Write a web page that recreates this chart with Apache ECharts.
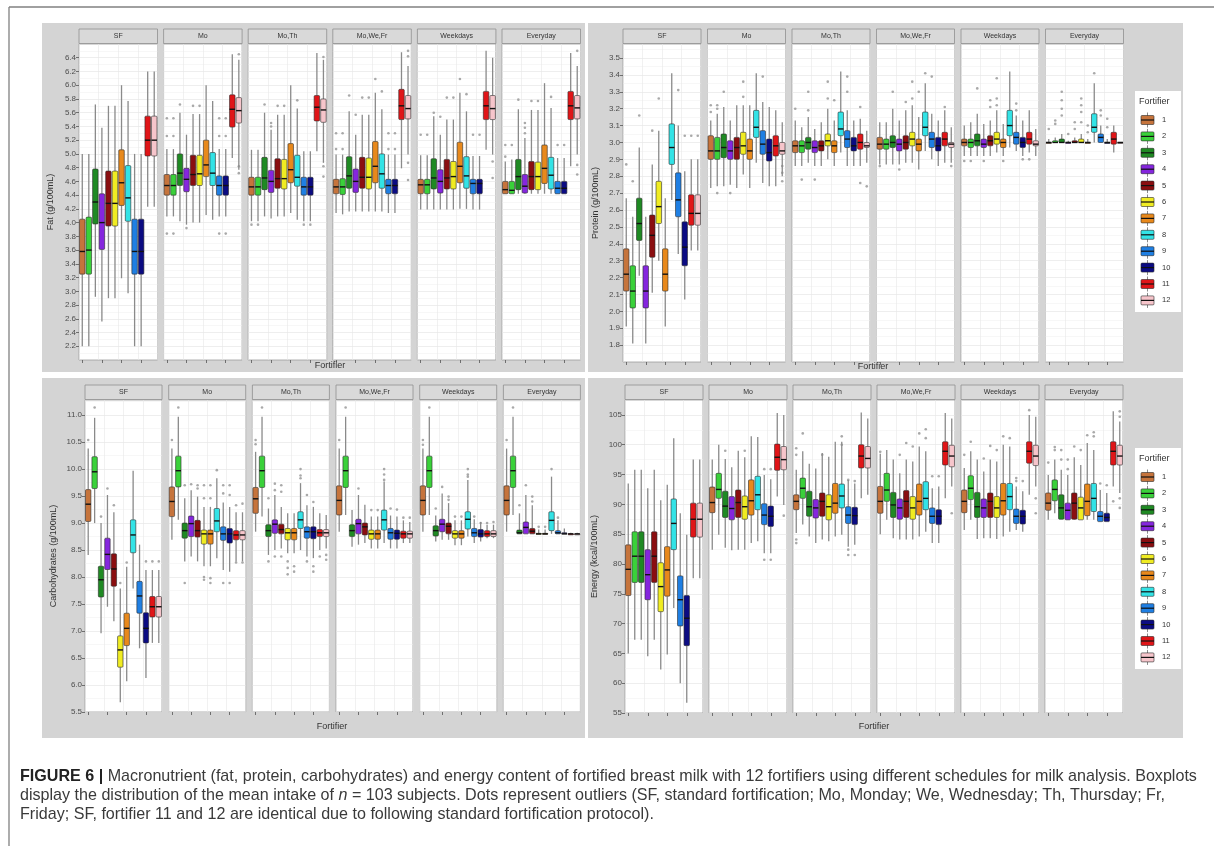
<!DOCTYPE html>
<html><head><meta charset="utf-8">
<script src="https://cdn.jsdelivr.net/npm/echarts@6/dist/echarts.min.js"></script>
<style>html,body{margin:0;padding:0;background:#fff}#c{width:1214px;height:846px}</style>
</head><body><div id="c"></div>
<script>
// ---------- categories ----------
const fortifiers = ['1','2','3','4','5','6','7','8','9','10','11','12'];
const facets = ['SF','Mo','Mo,Th','Mo,We,Fr','Weekdays','Everyday'];
// ---------- tick label ranges [first, last, step] ----------
const fatTicks = [2.2, 6.4, 0.2];
const proteinTicks = [1.8, 3.5, 0.1];
const carbsTicks = [5.5, 11.0, 0.5];
const energyTicks = [55, 105, 5];

// ---------- box stats per fortifier: [lower whisker, Q1, median, Q3, upper whisker] ----------
const fat_SF = [[2.2,3.25,3.58,4.05,5.0],[2.2,3.25,3.6,4.08,5.0],[2.92,3.98,4.3,4.78,5.72],[2.56,3.61,4.0,4.42,5.38],[2.9,3.95,4.28,4.75,5.7],[2.9,3.95,4.28,4.75,5.7],[3.19,4.25,4.58,5.06,6.0],[2.97,4.02,4.36,4.83,5.77],[2.2,3.25,3.58,4.05,5.0],[2.2,3.25,3.58,4.05,5.0],[4.23,4.97,5.2,5.55,6.2],[4.23,4.97,5.2,5.55,6.2]];
const fat_Mo = [[4.09,4.4,4.54,4.7,5.07],[4.09,4.4,4.54,4.7,5.07],[4.02,4.54,4.72,5.0,5.6],[3.97,4.45,4.63,4.79,5.28],[4.0,4.54,4.7,4.98,5.58],[4.0,4.54,4.71,4.98,5.58],[4.11,4.67,4.84,5.2,6.0],[4.04,4.54,4.72,5.02,5.77],[4.09,4.4,4.54,4.68,5.07],[4.09,4.4,4.54,4.68,5.07],[4.94,5.39,5.65,5.86,6.45],[4.77,5.45,5.63,5.82,6.37]];
const fat_MoTh = [[4.02,4.4,4.52,4.66,5.06],[4.02,4.4,4.52,4.66,5.06],[4.09,4.48,4.65,4.95,5.6],[4.06,4.44,4.6,4.76,5.35],[4.09,4.5,4.64,4.93,5.57],[4.09,4.49,4.64,4.92,5.57],[4.14,4.58,4.77,5.15,6.0],[4.04,4.53,4.66,4.98,5.66],[4.02,4.4,4.52,4.66,5.04],[4.02,4.4,4.52,4.66,5.04],[5.04,5.48,5.68,5.85,6.47],[4.87,5.46,5.64,5.8,6.37]];
const fat_MoWeFr = [[4.14,4.42,4.52,4.63,4.99],[4.12,4.41,4.52,4.64,4.99],[4.16,4.5,4.68,4.96,5.62],[4.16,4.44,4.6,4.78,5.28],[4.16,4.5,4.66,4.95,5.57],[4.16,4.49,4.66,4.94,5.57],[4.16,4.58,4.82,5.18,5.89],[4.16,4.5,4.71,5.0,5.65],[4.14,4.42,4.54,4.63,4.99],[4.14,4.42,4.54,4.63,4.99],[4.79,5.5,5.7,5.94,6.48],[4.99,5.51,5.66,5.85,6.28]];
const fat_Weekdays = [[4.19,4.42,4.55,4.63,4.98],[4.19,4.42,4.55,4.63,4.98],[4.19,4.49,4.65,4.93,5.55],[4.19,4.43,4.6,4.77,5.28],[4.19,4.49,4.65,4.92,5.5],[4.19,4.49,4.67,4.89,5.5],[4.2,4.58,4.82,5.17,5.89],[4.2,4.5,4.68,4.96,5.62],[4.19,4.42,4.57,4.63,4.97],[4.19,4.42,4.57,4.63,4.97],[5.06,5.5,5.7,5.91,6.5],[4.99,5.5,5.66,5.85,6.4]];
const fat_Everyday = [[4.42,4.42,4.48,4.6,4.89],[4.42,4.42,4.47,4.6,4.92],[4.42,4.48,4.67,4.92,5.65],[4.42,4.43,4.53,4.7,5.23],[4.42,4.48,4.67,4.89,5.64],[4.42,4.48,4.67,4.88,5.64],[4.42,4.57,4.79,5.13,6.03],[4.42,4.49,4.69,4.95,5.67],[4.42,4.42,4.5,4.6,4.94],[4.42,4.42,4.5,4.6,4.94],[4.82,5.5,5.7,5.91,6.47],[4.99,5.51,5.67,5.85,6.28]];

const protein_SF = [[1.91,2.12,2.22,2.37,2.67],[1.81,2.02,2.12,2.27,2.56],[2.21,2.42,2.52,2.67,2.97],[1.81,2.02,2.12,2.27,2.56],[2.11,2.32,2.45,2.57,2.87],[2.3,2.52,2.62,2.77,3.07],[1.91,2.12,2.22,2.37,2.67],[2.66,2.87,2.97,3.11,3.41],[2.34,2.56,2.66,2.82,3.1],[2.07,2.27,2.38,2.53,2.83],[2.36,2.51,2.58,2.69,2.9],[2.36,2.51,2.58,2.69,2.9]];
const protein_Mo = [[2.73,2.9,2.95,3.04,3.13],[2.74,2.9,2.95,3.03,3.17],[2.74,2.91,2.97,3.05,3.21],[2.75,2.9,2.95,3.01,3.13],[2.73,2.9,2.97,3.03,3.22],[2.81,2.93,2.98,3.06,3.22],[2.73,2.9,2.95,3.02,3.22],[2.88,3.03,3.09,3.19,3.41],[2.76,2.93,2.99,3.07,3.24],[2.74,2.89,2.94,3.02,3.21],[2.74,2.92,2.98,3.04,3.19],[2.8,2.93,2.95,3.0,3.12]];
const protein_MoTh = [[2.86,2.94,2.98,3.01,3.13],[2.86,2.94,2.98,3.01,3.09],[2.88,2.96,3.0,3.03,3.15],[2.86,2.94,2.97,3.01,3.08],[2.86,2.95,2.98,3.01,3.12],[2.9,2.98,3.01,3.05,3.2],[2.86,2.94,2.98,3.01,3.13],[2.94,3.04,3.08,3.18,3.42],[2.86,2.97,3.02,3.07,3.19],[2.86,2.95,2.98,3.03,3.13],[2.86,2.96,3.0,3.05,3.14],[2.88,2.97,2.98,3.0,3.07]];
const protein_MoWeFr = [[2.87,2.96,2.99,3.03,3.12],[2.87,2.96,2.99,3.02,3.12],[2.87,2.97,3.0,3.04,3.2],[2.87,2.95,2.99,3.02,3.13],[2.88,2.96,3.0,3.04,3.19],[2.88,2.98,3.02,3.06,3.22],[2.84,2.95,2.99,3.02,3.15],[2.95,3.04,3.09,3.18,3.35],[2.9,2.97,3.02,3.06,3.17],[2.86,2.95,2.98,3.03,3.13],[2.88,2.98,3.02,3.06,3.19],[2.88,2.97,2.99,3.0,3.09]];
const protein_Weekdays = [[2.92,2.98,3.0,3.02,3.1],[2.92,2.97,3.0,3.02,3.12],[2.92,2.98,3.01,3.05,3.17],[2.92,2.97,2.99,3.02,3.11],[2.92,2.98,3.01,3.04,3.13],[2.94,2.99,3.02,3.06,3.19],[2.92,2.97,3.0,3.02,3.11],[2.97,3.04,3.1,3.19,3.42],[2.95,2.99,3.03,3.06,3.16],[2.92,2.97,3.0,3.03,3.13],[2.94,2.99,3.02,3.06,3.19],[2.92,2.98,2.99,3.01,3.08]];
const protein_Everyday = [[3.0,3.0,3.0,3.0,3.02],[3.0,3.0,3.0,3.01,3.03],[3.0,3.0,3.0,3.02,3.05],[3.0,3.0,3.0,3.0,3.01],[3.0,3.0,3.0,3.01,3.03],[3.0,3.0,3.0,3.02,3.05],[3.0,3.0,3.0,3.0,3.02],[3.0,3.06,3.09,3.17,3.35],[3.0,3.0,3.03,3.05,3.1],[3.0,3.0,3.0,3.0,3.02],[2.94,2.99,3.02,3.06,3.1],[3.0,3.0,3.0,3.0,3.0]];

const carbs_SF = [[8.41,9.03,9.35,9.62,10.38],[9.0,9.64,9.95,10.23,10.95],[6.96,7.63,7.95,8.2,9.0],[7.45,8.14,8.42,8.72,9.52],[7.18,7.83,8.15,8.43,9.2],[5.68,6.33,6.65,6.91,7.79],[6.07,6.73,7.05,7.33,8.19],[7.79,8.45,8.78,9.06,9.97],[6.68,7.33,7.65,7.92,8.6],[6.13,6.78,7.05,7.34,8.13],[6.78,7.26,7.45,7.64,8.13],[6.78,7.26,7.45,7.64,8.13]];
const carbs_Mo = [[8.69,9.12,9.4,9.67,10.38],[9.06,9.67,9.97,10.24,10.97],[8.29,8.72,8.86,9.0,9.46],[8.38,8.75,8.99,9.13,9.61],[8.29,8.74,8.86,9.05,9.49],[8.2,8.61,8.8,8.87,9.3],[8.2,8.61,8.8,8.87,9.3],[8.35,8.84,9.04,9.27,9.83],[8.13,8.68,8.8,8.93,9.38],[8.1,8.63,8.8,8.9,9.3],[8.29,8.69,8.78,8.86,9.2],[8.29,8.69,8.78,8.86,9.2]];
const carbs_MoTh = [[8.84,9.18,9.45,9.66,10.32],[9.12,9.66,9.97,10.24,10.97],[8.41,8.75,8.86,8.97,9.27],[8.5,8.81,8.98,9.06,9.52],[8.53,8.8,8.88,8.98,9.3],[8.44,8.69,8.82,8.9,9.18],[8.44,8.69,8.82,8.9,9.18],[8.5,8.9,9.06,9.21,9.74],[8.38,8.72,8.84,8.93,9.33],[8.35,8.71,8.84,8.93,9.3],[8.5,8.75,8.82,8.88,9.18],[8.53,8.75,8.82,8.88,9.15]];
const carbs_MoWeFr = [[8.84,9.15,9.42,9.69,10.38],[9.15,9.66,9.97,10.24,10.97],[8.56,8.75,8.86,8.97,9.24],[8.6,8.8,8.99,9.07,9.52],[8.63,8.78,8.93,9.0,9.34],[8.53,8.7,8.8,8.87,9.12],[8.53,8.7,8.8,8.87,9.12],[8.63,8.87,9.06,9.24,9.77],[8.53,8.7,8.82,8.9,9.14],[8.53,8.7,8.81,8.87,9.12],[8.63,8.72,8.8,8.85,9.05],[8.63,8.72,8.8,8.85,9.02]];
const carbs_Weekdays = [[8.84,9.15,9.42,9.69,10.38],[9.15,9.66,9.97,10.24,10.97],[8.66,8.76,8.86,8.95,9.14],[8.69,8.84,8.98,9.07,9.55],[8.69,8.8,8.94,9.0,9.37],[8.59,8.72,8.8,8.86,9.05],[8.59,8.72,8.8,8.86,9.05],[8.75,8.89,9.07,9.21,9.8],[8.63,8.75,8.82,8.9,9.07],[8.66,8.74,8.8,8.88,9.02],[8.72,8.75,8.8,8.86,8.97],[8.72,8.75,8.8,8.86,8.97]];
const carbs_Everyday = [[8.84,9.15,9.42,9.69,10.38],[9.15,9.66,9.97,10.24,10.97],[8.8,8.8,8.82,8.87,9.18],[8.8,8.8,8.92,9.02,9.52],[8.8,8.8,8.85,8.9,9.33],[8.8,8.8,8.8,8.81,8.88],[8.8,8.8,8.8,8.81,8.88],[8.8,8.86,9.05,9.21,9.86],[8.8,8.8,8.82,8.86,9.05],[8.8,8.8,8.8,8.82,8.9],[8.8,8.8,8.8,8.8,8.82],[8.8,8.8,8.8,8.8,8.82]];

const energy_SF = [[65.0,74.7,79.1,83.2,93.5],[67.3,76.9,81.3,85.4,95.8],[67.3,76.9,81.3,85.4,95.8],[64.5,74.0,78.2,82.4,92.7],[67.3,76.9,81.3,85.4,95.8],[62.3,72.0,76.2,80.2,90.7],[64.8,74.6,79.0,82.9,93.3],[72.6,82.4,86.8,90.9,101.1],[60.0,69.6,74.0,78.0,88.5],[56.7,66.3,70.9,74.7,84.9],[77.6,84.5,87.5,90.2,97.5],[77.6,84.5,87.5,90.2,97.5]];
const energy_Mo = [[82.4,88.6,90.3,92.9,97.5],[84.9,91.0,92.5,95.2,100.0],[82.7,87.8,89.7,92.2,97.6],[82.3,87.4,89.3,91.3,96.2],[82.4,87.8,90.3,92.4,99.0],[82.4,87.5,89.6,91.4,97.9],[83.5,88.2,90.6,94.1,101.4],[83.8,89.1,91.6,94.7,101.3],[81.8,86.6,88.2,90.1,94.9],[81.8,86.3,88.0,89.7,94.2],[91.3,95.7,97.9,100.1,105.3],[89.9,95.8,97.5,99.7,105.0]];
const energy_MoTh = [[85.2,89.1,90.5,91.6,95.8],[86.6,91.0,92.7,94.4,98.9],[84.6,88.0,89.6,92.2,96.8],[83.5,87.7,89.4,90.8,96.0],[84.1,88.0,90.5,91.9,98.6],[83.8,87.4,89.6,91.6,98.0],[84.6,88.5,90.2,93.5,100.5],[84.9,89.4,91.4,93.4,100.5],[82.9,86.8,88.2,89.6,94.1],[83.2,86.6,88.1,89.5,93.5],[91.0,96.1,98.1,100.0,105.4],[91.6,96.1,97.7,99.7,104.4]];
const energy_MoWeFr = [[85.0,88.5,90.5,93.0,98.5],[87.4,90.5,92.4,95.2,99.1],[84.3,87.8,89.9,92.0,97.5],[84.1,87.5,89.4,90.9,95.2],[84.1,87.8,90.5,92.3,97.5],[84.1,87.5,89.4,91.3,97.2],[84.6,88.2,90.5,93.4,99.7],[85.4,89.1,91.0,93.8,98.9],[83.5,86.8,88.0,89.4,92.7],[83.5,86.6,88.0,89.1,93.0],[91.0,96.6,98.9,100.5,105.3],[93.0,96.3,98.1,99.9,104.4]];
const energy_Weekdays = [[85.7,88.6,90.5,92.4,96.1],[87.4,90.8,92.7,94.8,98.9],[84.2,87.8,89.6,92.0,97.5],[84.3,87.8,89.4,90.9,95.5],[84.3,87.8,90.5,91.9,97.5],[84.2,87.8,89.4,91.3,97.2],[84.6,88.2,90.6,93.5,100.0],[85.4,89.1,91.3,93.5,99.7],[85.7,86.8,88.0,89.2,93.0],[85.4,86.7,88.0,89.0,92.2],[91.6,96.9,98.9,100.5,105.0],[93.0,96.5,98.1,99.9,104.7]];
const energy_Everyday = [[87.4,89.0,90.2,91.9,94.9],[88.5,90.6,92.5,94.1,97.5],[87.5,87.5,89.4,91.6,95.8],[87.4,87.4,89.0,90.2,94.9],[87.4,87.5,90.2,91.9,97.9],[87.4,87.4,89.4,91.2,96.6],[87.4,88.1,90.5,93.4,100.3],[87.4,88.8,91.0,93.5,99.1],[87.1,87.1,88.0,88.8,92.4],[87.1,87.1,87.8,88.5,91.9],[93.0,96.6,98.9,100.5,105.6],[91.9,96.6,98.1,99.9,103.9]];

// ---------- outliers: [fortifier, value] ----------
const fat_SF_out = [];
const fat_Mo_out = [[1,5.52],[1,5.26],[1,3.84],[2,5.52],[2,5.26],[2,3.84],[3,5.72],[4,3.92],[5,5.7],[6,5.7],[9,5.52],[9,5.26],[9,3.84],[10,5.52],[10,5.26],[10,3.84],[12,6.45],[12,4.82],[12,4.72]];
const fat_MoTh_out = [[1,3.97],[2,3.97],[3,5.72],[4,5.4],[4,5.45],[5,5.7],[6,5.7],[8,5.78],[9,3.97],[10,3.97],[12,6.41],[12,4.82],[12,4.67]];
const fat_MoWeFr_out = [[1,5.3],[1,5.07],[2,5.3],[2,5.07],[3,5.85],[4,5.57],[5,5.82],[6,5.82],[7,6.09],[8,5.91],[9,5.3],[9,5.07],[10,5.3],[10,5.07],[12,6.5],[12,6.42],[12,4.87],[12,4.62]];
const fat_Weekdays_out = [[1,5.28],[2,5.28],[3,5.6],[4,5.54],[5,5.82],[6,5.82],[7,6.09],[8,5.87],[9,5.28],[10,5.28],[12,4.89],[12,4.65]];
const fat_Everyday_out = [[1,5.13],[1,4.96],[2,5.13],[3,5.79],[4,5.45],[4,5.38],[4,5.3],[5,5.77],[6,5.77],[8,5.83],[9,5.13],[10,5.13],[12,6.5],[12,4.84],[12,4.7]];

const protein_SF_out = [[1,2.87],[2,2.77],[3,3.16],[5,3.07],[6,3.26],[9,3.31],[10,3.04],[11,3.04],[12,3.04]];
const protein_Mo_out = [[1,3.22],[1,3.18],[2,3.22],[2,3.2],[2,2.7],[3,3.3],[4,2.7],[6,3.36],[6,3.27],[9,3.39],[12,2.86],[12,2.82],[12,2.77]];
const protein_MoTh_out = [[1,3.2],[2,2.78],[3,3.3],[3,3.19],[4,2.78],[6,3.36],[6,3.26],[7,3.25],[9,3.39],[9,3.3],[11,3.21],[11,2.76],[12,2.74]];
const protein_MoWeFr_out = [[1,2.86],[3,3.3],[4,2.84],[5,3.24],[6,3.36],[6,3.26],[7,3.3],[8,3.41],[9,3.39],[11,3.21],[12,2.86]];
const protein_Weekdays_out = [[1,2.89],[2,2.89],[3,3.32],[4,2.89],[5,3.25],[5,3.21],[6,3.38],[6,3.26],[6,3.22],[7,2.89],[9,3.23],[9,3.19],[10,2.9],[11,2.9]];
const protein_Everyday_out = [[1,3.08],[2,3.13],[2,3.11],[3,3.2],[3,3.25],[3,3.3],[3,3.16],[4,3.05],[5,3.08],[5,3.12],[6,3.12],[6,3.18],[6,3.22],[6,3.26],[7,3.06],[7,3.1],[8,3.41],[9,3.19],[9,3.16],[10,3.14],[10,3.09]];

const carbs_SF_out = [[1,10.54],[2,11.14],[3,9.12],[4,9.64],[5,9.33],[6,7.89],[7,8.27],[10,8.29],[11,8.29],[12,8.29]];
const carbs_Mo_out = [[1,10.54],[2,11.14],[3,9.7],[3,7.89],[4,9.72],[5,9.7],[5,9.64],[6,9.7],[6,9.46],[6,8.0],[6,7.95],[7,9.7],[7,9.46],[7,7.98],[7,7.89],[8,9.98],[9,9.7],[9,9.55],[9,7.89],[10,9.7],[10,9.52],[10,7.89],[11,9.33],[11,8.27],[12,9.36],[12,8.27]];
const carbs_MoTh_out = [[1,10.54],[1,10.46],[2,11.14],[3,9.46],[3,8.29],[4,9.73],[4,9.61],[4,8.38],[5,9.7],[5,9.58],[5,8.38],[6,8.29],[6,8.17],[6,8.05],[7,8.2],[7,8.1],[8,10.0],[8,9.88],[8,9.83],[9,9.52],[9,8.29],[10,9.39],[10,8.2],[10,8.1],[11,8.38],[12,8.41],[12,8.32]];
const carbs_MoWeFr_out = [[1,10.54],[2,11.14],[4,9.64],[6,9.24],[7,9.24],[8,10.0],[8,9.9],[8,9.8],[9,9.27],[10,9.25],[11,9.1],[12,9.1]];
const carbs_Weekdays_out = [[1,10.54],[1,10.45],[2,11.14],[3,9.27],[4,9.67],[5,9.49],[5,9.43],[6,9.12],[7,9.12],[8,10.0],[8,9.9],[8,9.86],[9,9.12],[10,9.0],[11,9.0],[12,9.02]];
const carbs_Everyday_out = [[1,10.54],[2,11.14],[3,9.33],[4,9.7],[5,9.49],[5,9.4],[6,8.93],[7,8.93],[8,10.0],[9,9.1]];

const energy_SF_out = [];
const energy_Mo_out = [[3,99.0],[6,99.0],[9,95.9],[9,80.7],[10,95.9],[10,80.7],[12,88.1]];
const energy_MoTh_out = [[1,99.4],[1,98.3],[1,84.1],[1,83.5],[2,101.9],[5,98.3],[8,101.4],[8,100.0],[9,94.1],[9,82.4],[9,81.5],[10,93.9],[10,81.5]];
const energy_MoWeFr_out = [[1,98.8],[4,98.3],[5,100.3],[6,99.7],[7,101.9],[8,102.6],[8,101.1],[9,94.7],[10,94.7],[12,88.5]];
const energy_Weekdays_out = [[1,98.3],[2,100.5],[4,97.7],[5,99.8],[6,99.1],[7,101.4],[8,101.1],[9,94.4],[9,93.9],[10,93.9],[11,105.8],[12,91.0],[12,88.5]];
const energy_Everyday_out = [[1,97.0],[2,99.1],[2,99.6],[3,97.5],[3,99.1],[4,95.9],[4,97.5],[5,99.7],[6,99.1],[7,101.6],[8,102.1],[8,101.4],[9,93.5],[10,93.2],[11,90.5],[12,105.6],[12,104.7],[12,91.0],[12,89.4]];

// ---------- styles ----------
const fillColors = ['#C6743C','#3AD13A','#1F8A23','#8526DE','#8A0E10','#F0EC22','#E8891C','#33E3E6','#1F7FE3','#0B0B82','#E01518','#F6C5CB'];

const panels = [
  {title:'Fat (g/100mL)', boxes:[fat_SF,fat_Mo,fat_MoTh,fat_MoWeFr,fat_Weekdays,fat_Everyday],
   outs:[fat_SF_out,fat_Mo_out,fat_MoTh_out,fat_MoWeFr_out,fat_Weekdays_out,fat_Everyday_out],
   ticks:fatTicks, yMin:2.0, yMax:6.6, dec:1, lefts:[79,163.6,248.2,332.8,417.4,502], width:78.5, top:44, height:316, nameGap:24,
   bg:[42,23,543,349], legendY:null, xTitle:[330,366]},
  {title:'Protein (g/100mL)', boxes:[protein_SF,protein_Mo,protein_MoTh,protein_MoWeFr,protein_Weekdays,protein_Everyday],
   outs:[protein_SF_out,protein_Mo_out,protein_MoTh_out,protein_MoWeFr_out,protein_Weekdays_out,protein_Everyday_out],
   ticks:proteinTicks, yMin:1.7, yMax:3.583, dec:1, lefts:[623,707.5,792,876.5,961,1045.5], width:78, top:44, height:318, nameGap:23,
   bg:[588,23,595,349], legendY:91, xTitle:[873,367]},
  {title:'Carbohydrates (g/100mL)', boxes:[carbs_SF,carbs_Mo,carbs_MoTh,carbs_MoWeFr,carbs_Weekdays,carbs_Everyday],
   outs:[carbs_SF_out,carbs_Mo_out,carbs_MoTh_out,carbs_MoWeFr_out,carbs_Weekdays_out,carbs_Everyday_out],
   ticks:carbsTicks, yMin:5.5, yMax:11.28, dec:1, lefts:[85,168.7,252.4,336,419.7,503.4], width:77, top:400, height:312, nameGap:27,
   bg:[42,378,543,360], legendY:null, xTitle:[332,727]},
  {title:'Energy (kcal/100mL)', boxes:[energy_SF,energy_Mo,energy_MoTh,energy_MoWeFr,energy_Weekdays,energy_Everyday],
   outs:[energy_SF_out,energy_Mo_out,energy_MoTh_out,energy_MoWeFr_out,energy_Weekdays_out,energy_Everyday_out],
   ticks:energyTicks, yMin:55, yMax:107.5, dec:0, lefts:[625,709,793,877,961,1045], width:78, top:400, height:313, nameGap:26,
   bg:[588,378,595,360], legendY:448, xTitle:[874,727]}
];

function tickValues(t){
  const out = [];
  const n = Math.round((t[1]-t[0])/t[2]);
  for (let k=0; k<=n; k++) out.push(Math.round((t[0]+k*t[2])*1000)/1000);
  return out;
}

function renderBox(params, api){
  const i = api.value(0);
  const lo = api.coord([i, api.value(1)]);
  const q1 = api.coord([i, api.value(2)]);
  const md = api.coord([i, api.value(3)]);
  const q3 = api.coord([i, api.value(4)]);
  const hi = api.coord([i, api.value(5)]);
  const bw = api.size([1,0])[0]*0.84;
  const x = lo[0];
  const h = Math.max(q1[1]-q3[1], 1);
  return {type:'group', children:[
    {type:'line', shape:{x1:x,y1:hi[1],x2:x,y2:q3[1]}, style:{stroke:'#8a8a8a', lineWidth:1.3}},
    {type:'line', shape:{x1:x,y1:q1[1],x2:x,y2:lo[1]}, style:{stroke:'#8a8a8a', lineWidth:1.3}},
    {type:'rect', shape:{x:x-bw/2, y:q3[1], width:bw, height:h, r:1}, style:{fill:fillColors[i], stroke:'#2a2a2a', lineWidth:0.6}},
    {type:'line', shape:{x1:x-bw/2,y1:md[1],x2:x+bw/2,y2:md[1]}, style:{stroke:'#111', lineWidth:1.4}}
  ]};
}

const grids=[], xAxes=[], yAxes=[], series=[], graphics=[];

// outer frame
graphics.push({type:'line', z:-20, shape:{x1:9,y1:7,x2:1214,y2:7}, style:{stroke:'#808080', lineWidth:1.3}});
graphics.push({type:'line', z:-20, shape:{x1:9,y1:7,x2:9,y2:846}, style:{stroke:'#808080', lineWidth:1.3}});

panels.forEach((p)=>{
  graphics.push({type:'rect', z:-10, shape:{x:p.bg[0], y:p.bg[1], width:p.bg[2], height:p.bg[3]}, style:{fill:'#d4d4d4'}});
  graphics.push({type:'text', z:10, x:p.xTitle[0], y:p.xTitle[1], style:{text:'Fortifier', fill:'#333', fontSize:9, fontFamily:'Liberation Sans, Arial', textAlign:'center', textVerticalAlign:'middle'}});
  const lo = p.ticks[0], hiT = p.ticks[1];
  const tv = tickValues(p.ticks);
  p.lefts.forEach((left, fi)=>{
    const gi = grids.length;
    grids.push({left:left, top:p.top, width:p.width, height:p.height, show:true, backgroundColor:'#fff', borderColor:'#9c9c9c', borderWidth:0.8});
    xAxes.push({type:'category', gridIndex:gi, data:fortifiers, boundaryGap:true,
      axisLine:{show:false}, axisLabel:{show:false},
      axisTick:{show:true, alignWithLabel:true, length:3, lineStyle:{color:'#555', width:0.8}},
      splitLine:{show:true, lineStyle:{color:'#e8e8e8', width:0.6}}});
    yAxes.push({type:'value', gridIndex:gi, min:p.yMin, max:p.yMax, interval:p.ticks[2],
      axisLine:{show:false},
      axisTick:{show:fi===0, length:3, customValues:tv, lineStyle:{color:'#555', width:0.8}},
      axisLabel:{show:fi===0, fontSize:8, color:'#4d4d4d', margin:3, fontFamily:'Liberation Sans, Arial', customValues:tv,
        formatter:(v)=> (v < lo-1e-9 || v > hiT+1e-9) ? '' : v.toFixed(p.dec)},
      splitLine:{show:true, lineStyle:{color:'#e2e2e2', width:0.6}},
      minorTick:{show:false, splitNumber:2},
      minorSplitLine:{show:true, lineStyle:{color:'#efefef', width:0.5}},
      name: fi===0 ? p.title : '', nameLocation:'middle', nameGap:p.nameGap,
      nameTextStyle:{fontSize:9, color:'#333', fontFamily:'Liberation Sans, Arial'}});
    series.push({type:'custom', xAxisIndex:gi, yAxisIndex:gi, silent:true, z:3,
      data:p.boxes[fi].map((b,i)=>[i].concat(b)), encode:{x:0, y:[1,2,3,4,5]}, renderItem:renderBox});
    series.push({type:'scatter', xAxisIndex:gi, yAxisIndex:gi, silent:true, z:2, symbolSize:2.6,
      itemStyle:{color:'#949494'}, data:p.outs[fi].map(o=>[o[0]-1, o[1]])});
    // facet strip
    graphics.push({type:'rect', z:10, shape:{x:left, y:p.top-15, width:p.width, height:14.5}, style:{fill:'#d9d9d9', stroke:'#8f8f8f', lineWidth:0.8}});
    graphics.push({type:'text', z:11, x:left+p.width/2, y:p.top-7.5, style:{text:facets[fi], fill:'#333', fontSize:7, fontFamily:'Liberation Sans, Arial', textAlign:'center', textVerticalAlign:'middle'}});
  });
  if (p.legendY !== null){
    const y0 = p.legendY;
    graphics.push({type:'rect', z:10, shape:{x:1135, y:y0, width:46, height:221}, style:{fill:'#fff'}});
    graphics.push({type:'text', z:11, x:1139, y:y0+11, style:{text:'Fortifier', fill:'#333', fontSize:9, fontFamily:'Liberation Sans, Arial', textVerticalAlign:'middle'}});
    fortifiers.forEach((f,k)=>{
      const cy = y0+29+k*16.4;
      graphics.push({type:'line', z:11, shape:{x1:1147.5,y1:cy-7.5,x2:1147.5,y2:cy+7.5}, style:{stroke:'#8a8a8a', lineWidth:1}});
      graphics.push({type:'rect', z:12, shape:{x:1141, y:cy-4.5, width:13, height:9, r:1}, style:{fill:fillColors[k], stroke:'#2a2a2a', lineWidth:0.6}});
      graphics.push({type:'line', z:13, shape:{x1:1141,y1:cy,x2:1154,y2:cy}, style:{stroke:'#111', lineWidth:1.2}});
      graphics.push({type:'text', z:11, x:1162, y:cy, style:{text:f, fill:'#333', fontSize:7.5, fontFamily:'Liberation Sans, Arial', textVerticalAlign:'middle'}});
    });
  }
});

// caption
const captionLines = [
  '{b|FIGURE 6 |} Macronutrient (fat, protein, carbohydrates) and energy content of fortified breast milk with 12 fortifiers using different schedules for milk analysis. Boxplots',
  'display the distribution of the mean intake of {i|n} = 103 subjects. Dots represent outliers (SF, standard fortification; Mo, Monday; We, Wednesday; Th, Thursday; Fr,',
  'Friday; SF, fortifier 11 and 12 are identical due to following standard fortification protocol).'
];
const capSize = 16.1;
captionLines.forEach((t,k)=>{
  graphics.push({type:'text', z:10, x:20, y:777+k*19, style:{text:t, fill:'#3a3a3a', fontSize:capSize, fontFamily:'Liberation Sans, Arial', textVerticalAlign:'middle',
    rich:{b:{fontWeight:'bold', fontSize:capSize, fill:'#222', fontFamily:'Liberation Sans, Arial'}, i:{fontStyle:'italic', fontSize:capSize, fill:'#3a3a3a', fontFamily:'Liberation Sans, Arial'}}}});
});

const chart = echarts.init(document.getElementById('c'), null, {renderer:'canvas'});
chart.setOption({
  animation:false,
  backgroundColor:'#fff',
  grid:grids, xAxis:xAxes, yAxis:yAxes, series:series,
  graphic:{elements:graphics}
});
</script></body></html>
